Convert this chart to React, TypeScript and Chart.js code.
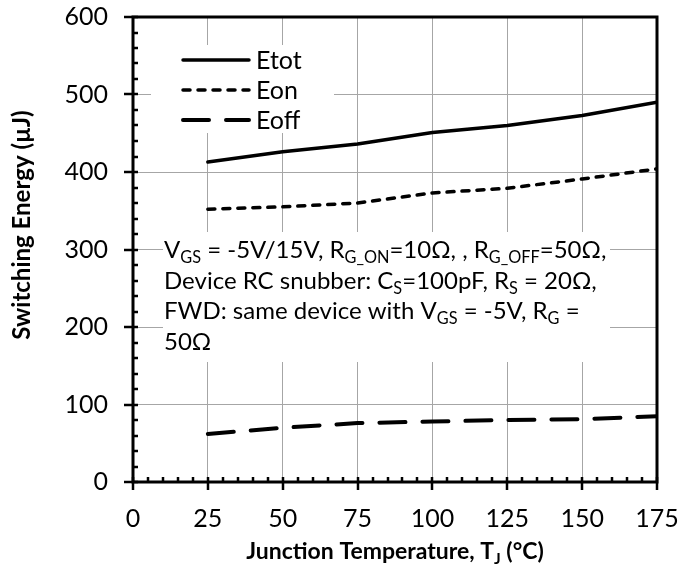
import React, { useEffect, useRef } from "react";
import { Chart, registerables } from "chart.js";

Chart.register(...registerables);

// Junction temperature (°C) and switching energies (µJ)
const temperatures = [25, 50, 75, 100, 125, 150, 175];
const etot = [413, 426, 436, 451, 460, 473, 490];
const eon = [352, 355, 360, 373, 379, 391, 404];
const eoff = [62, 70, 76, 78, 80, 81, 85];
const seriesNames = ["Etot", "Eon", "Eoff"];

const xMin = 0;
const xMax = 175;
const xStep = 25;
const xMinorStep = 5;
const yMin = 0;
const yMax = 600;
const yStep = 100;
const yMinorStep = 20;

const FONT = "Lato, 'Open Sans', sans-serif";

type Part = [string, boolean?];

// Test conditions, with subscripts marked
const noteLines: Part[][] = [
  [["V"], ["GS", true], [" = -5V/15V, R"], ["G_ON", true], ["=10\u03A9, , R"], ["G_OFF", true], ["=50\u03A9,"]],
  [["Device RC snubber: C"], ["S", true], ["=100pF, R"], ["S", true], [" = 20\u03A9,"]],
  [["FWD: same device with V"], ["GS", true], [" = -5V, R"], ["G", true], [" ="]],
  [["50\u03A9"]],
];

const xTitle: Part[] = [["Junction Temperature, T"], ["J", true], [" (\u00B0C)"]];
const yTitle: Part[] = [["Switching Energy (\u00B5J)"]];

function richWidth(ctx: CanvasRenderingContext2D, parts: Part[], size: number, weight: string) {
  let w = 0;
  for (const [t, sub] of parts) {
    ctx.font = `${weight} ${sub ? size * 0.68 : size}px ${FONT}`;
    w += ctx.measureText(t).width;
  }
  return w;
}

function drawRich(
  ctx: CanvasRenderingContext2D,
  x: number,
  y: number,
  parts: Part[],
  size: number,
  weight = "normal"
) {
  ctx.textBaseline = "alphabetic";
  ctx.textAlign = "left";
  let cx = x;
  for (const [t, sub] of parts) {
    const s = sub ? size * 0.68 : size;
    ctx.font = `${weight} ${s}px ${FONT}`;
    ctx.fillText(t, cx, sub ? y + size * 0.22 : y);
    cx += ctx.measureText(t).width;
  }
}

const styles = [
  { width: 3.5, dash: [] as number[] },
  { width: 3.5, dash: [7, 8] },
  { width: 4, dash: [26, 17] },
];

const zeroPadding = (s: any) => {
  s.paddingTop = 0;
  s.paddingBottom = 0;
  s.paddingLeft = 0;
  s.paddingRight = 0;
};

const decorPlugin = {
  id: "decor",
  beforeDatasetsDraw(chart: any) {
    const ctx: CanvasRenderingContext2D = chart.ctx;
    const { left, top } = chart.chartArea;
    ctx.save();
    ctx.fillStyle = "#ffffff";
    // legend backdrop
    ctx.fillRect(left + 18, top + 28, 183, 88);
    // note backdrop
    ctx.fillRect(left + 30, top + 215, 447, 130);
    ctx.restore();
  },
  afterDraw(chart: any) {
    const ctx: CanvasRenderingContext2D = chart.ctx;
    const { left, right, top, bottom } = chart.chartArea;
    const xs = chart.scales.x;
    const ys = chart.scales.y;
    ctx.save();
    ctx.strokeStyle = "#000";
    ctx.fillStyle = "#000";

    // minor ticks
    ctx.lineWidth = 2.5;
    ctx.beginPath();
    for (let v = yMin; v <= yMax; v += yMinorStep) {
      if (v % yStep === 0) continue;
      const py = Math.round(ys.getPixelForValue(v));
      ctx.moveTo(left, py);
      ctx.lineTo(left + 5, py);
    }
    for (let v = xMin; v <= xMax; v += xMinorStep) {
      if (v % xStep === 0) continue;
      const px = Math.round(xs.getPixelForValue(v));
      ctx.moveTo(px, bottom);
      ctx.lineTo(px, bottom - 5);
    }
    ctx.stroke();

    // major ticks
    ctx.beginPath();
    for (let v = yMin; v <= yMax; v += yStep) {
      const py = Math.round(ys.getPixelForValue(v));
      ctx.moveTo(left - 9, py);
      ctx.lineTo(left + 5, py);
    }
    for (let v = xMin; v <= xMax; v += xStep) {
      const px = Math.round(xs.getPixelForValue(v));
      ctx.moveTo(px, bottom + 8);
      ctx.lineTo(px, bottom - 5);
    }
    ctx.stroke();

    // frame
    ctx.lineWidth = 3;
    ctx.beginPath();
    ctx.moveTo(left, top);
    ctx.lineTo(right, top);
    ctx.lineTo(right, bottom);
    ctx.lineTo(left, bottom);
    ctx.closePath();
    ctx.stroke();

    // legend
    const legendX = left + 48;
    seriesNames.forEach((name, i) => {
      const ly = top + 43 + i * 30;
      ctx.beginPath();
      ctx.lineWidth = styles[i].width;
      ctx.lineCap = "round";
      ctx.setLineDash(styles[i].dash);
      ctx.moveTo(legendX + 2, ly);
      ctx.lineTo(legendX + 68, ly);
      ctx.stroke();
      ctx.setLineDash([]);
      ctx.font = `25px ${FONT}`;
      ctx.textBaseline = "middle";
      ctx.textAlign = "left";
      ctx.fillText(name, legendX + 75, ly + 1);
    });

    // conditions note
    noteLines.forEach((line, i) => {
      drawRich(ctx, left + 31, top + 241 + i * 30.5, line, 24);
    });

    // x axis title
    const xw = richWidth(ctx, xTitle, 23, "bold");
    drawRich(ctx, (left + right) / 2 - xw / 2, 559, xTitle, 23, "bold");

    // y axis title
    const yw = richWidth(ctx, yTitle, 24, "bold");
    ctx.translate(30, 225);
    ctx.rotate(-Math.PI / 2);
    drawRich(ctx, -yw / 2, 0, yTitle, 24, "bold");

    ctx.restore();
  },
};

export default function App() {
  const canvasRef = useRef<HTMLCanvasElement | null>(null);

  useEffect(() => {
    document.body.style.margin = "0";
    const canvas = canvasRef.current;
    if (!canvas) return;
    const toPoints = (vals: number[]) => temperatures.map((t, i) => ({ x: t, y: vals[i] }));
    const series = [etot, eon, eoff];
    const chart = new Chart(canvas, {
      type: "scatter",
      data: {
        datasets: series.map((vals, i) => ({
          label: seriesNames[i],
          data: toPoints(vals),
          showLine: true,
          borderColor: "#000",
          backgroundColor: "#000",
          borderWidth: styles[i].width,
          borderDash: styles[i].dash,
          borderCapStyle: "round",
          borderJoinStyle: "round",
          pointRadius: 0,
          pointHoverRadius: 0,
          tension: 0,
        })),
      },
      options: {
        animation: false,
        responsive: false,
        events: [],
        layout: { padding: { left: 0, right: 24, top: 17, bottom: 0 } },
        plugins: {
          legend: { display: false },
          tooltip: { enabled: false },
          title: { display: false },
        },
        scales: {
          x: {
            type: "linear",
            min: xMin,
            max: xMax,
            border: { display: false },
            grid: { color: "#a6a6a6", lineWidth: 1, drawTicks: false },
            ticks: {
              stepSize: xStep,
              color: "#000",
              font: { family: FONT, size: 25 },
              padding: 22,
              maxRotation: 0,
            },
            afterFit: (s: any) => {
              s.height = 86;
              zeroPadding(s);
            },
          },
          y: {
            type: "linear",
            min: yMin,
            max: yMax,
            border: { display: false },
            grid: { color: "#a6a6a6", lineWidth: 1, drawTicks: false },
            ticks: {
              stepSize: yStep,
              color: "#000",
              font: { family: FONT, size: 25 },
              padding: 25,
            },
            afterFit: (s: any) => {
              s.width = 133;
              zeroPadding(s);
            },
          },
        },
      },
      plugins: [decorPlugin],
    });
    return () => chart.destroy();
  }, []);

  return <canvas ref={canvasRef} width={681} height={568} style={{ display: "block" }} />;
}
